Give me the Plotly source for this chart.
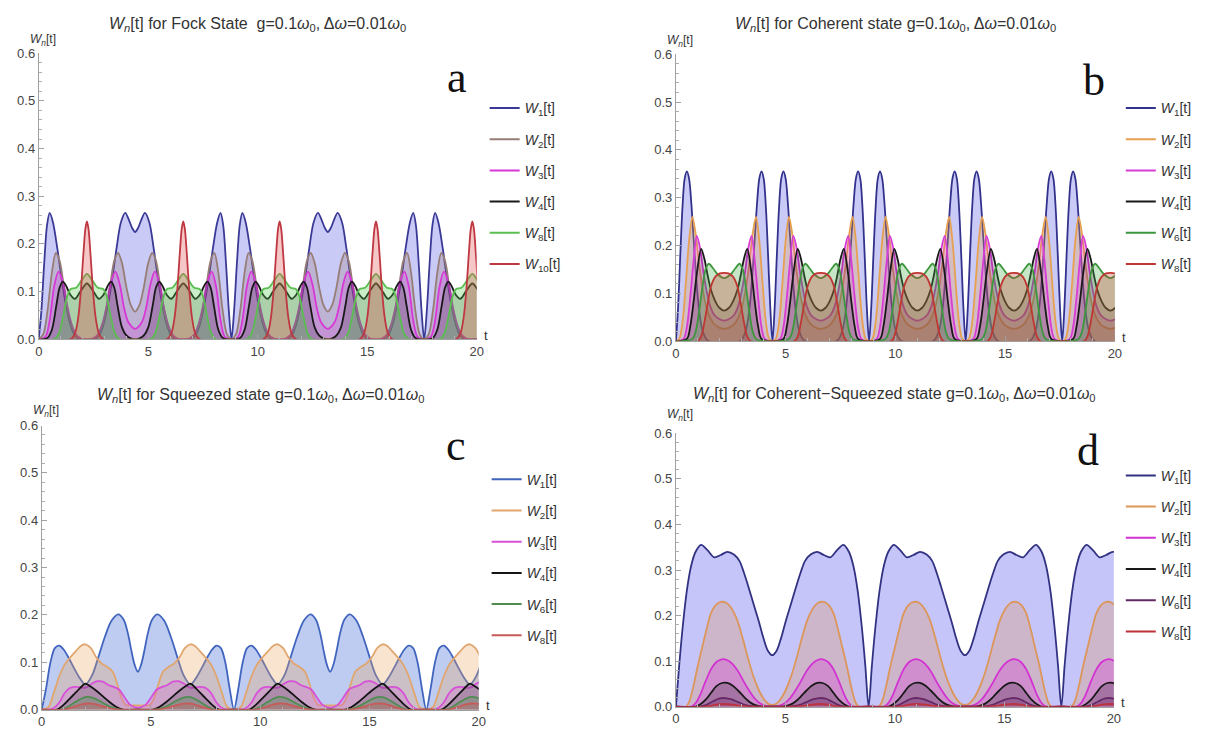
import plotly.graph_objects as go

# ---------------- data ----------------
# Each curve is given as (t, W) key points over one half period [0, 4.4];
# the pictures repeat this half period mirrored (period 8.8) along t.
PERIOD = 8.8
T_TICKS = [0, 5, 10, 15, 20]
Y_TICKS = [0.0, 0.1, 0.2, 0.3, 0.4, 0.5, 0.6]

NAMES_A = ["1", "2", "3", "4", "8", "10"]
NAMES_BCD = ["1", "2", "3", "4", "6", "8"]

# (a) Fock state
A_W1 = [(0, 0), (0.12, 0.06), (0.25, 0.16), (0.38, 0.24), (0.5, 0.265), (0.65, 0.245), (0.85, 0.19),
        (1.05, 0.125), (1.25, 0.07), (1.45, 0.03), (1.65, 0.008), (1.85, 0.0), (2.55, 0.0), (2.75, 0.008),
        (2.95, 0.03), (3.15, 0.07), (3.35, 0.125), (3.55, 0.19), (3.75, 0.245), (3.95, 0.265),
        (4.12, 0.25), (4.27, 0.233), (4.4, 0.225)]
A_W2 = [(0, 0), (0.2, 0.01), (0.4, 0.06), (0.6, 0.14), (0.78, 0.181), (0.95, 0.165), (1.15, 0.11),
        (1.35, 0.055), (1.55, 0.022), (1.8, 0.004), (2.2, 0.0), (2.6, 0.004), (2.85, 0.022), (3.05, 0.055),
        (3.25, 0.11), (3.45, 0.165), (3.62, 0.181), (3.8, 0.16), (4.0, 0.11), (4.2, 0.072), (4.4, 0.058)]
A_W3 = [(0, 0), (0.3, 0.005), (0.5, 0.04), (0.7, 0.11), (0.9, 0.142), (1.1, 0.12), (1.3, 0.07),
        (1.5, 0.032), (1.7, 0.01), (1.95, 0.001), (2.2, 0.0), (2.45, 0.001), (2.7, 0.01), (2.9, 0.032),
        (3.1, 0.07), (3.3, 0.12), (3.5, 0.142), (3.7, 0.115), (3.9, 0.065), (4.1, 0.035), (4.4, 0.022)]
A_W4 = [(0, 0), (0.4, 0.003), (0.6, 0.02), (0.8, 0.07), (0.95, 0.108), (1.1, 0.121), (1.25, 0.112),
        (1.45, 0.093), (1.65, 0.085), (1.9, 0.1), (2.2, 0.117), (2.5, 0.1), (2.75, 0.085), (2.95, 0.093),
        (3.15, 0.112), (3.3, 0.121), (3.45, 0.108), (3.6, 0.07), (3.8, 0.025), (4.0, 0.008),
        (4.2, 0.002), (4.4, 0.0)]
A_W8 = [(0, 0), (0.7, 0.0), (0.9, 0.01), (1.1, 0.045), (1.3, 0.09), (1.45, 0.105), (1.7, 0.108),
        (1.95, 0.123), (2.2, 0.137), (2.45, 0.123), (2.7, 0.108), (2.95, 0.105), (3.1, 0.09),
        (3.3, 0.045), (3.5, 0.01), (3.7, 0.0), (4.4, 0.0)]
A_W10 = [(0, 0), (1.45, 0.0), (1.65, 0.012), (1.8, 0.045), (1.92, 0.1), (2.04, 0.18), (2.13, 0.232),
         (2.2, 0.247), (2.27, 0.232), (2.36, 0.18), (2.48, 0.1), (2.6, 0.045), (2.75, 0.012),
         (2.95, 0.0), (4.4, 0.0)]

# (b) Coherent state
B_W1 = [(0, 0), (0.1, 0.07), (0.2, 0.18), (0.3, 0.28), (0.4, 0.34), (0.5, 0.355), (0.6, 0.34),
        (0.7, 0.29), (0.8, 0.22), (0.9, 0.15), (1.0, 0.09), (1.1, 0.05), (1.2, 0.025), (1.35, 0.007),
        (1.5, 0.0), (2.9, 0.0), (3.05, 0.007), (3.2, 0.025), (3.3, 0.05), (3.4, 0.09), (3.5, 0.15),
        (3.6, 0.22), (3.7, 0.29), (3.8, 0.34), (3.9, 0.355), (4.0, 0.34), (4.1, 0.28), (4.2, 0.18),
        (4.3, 0.07), (4.4, 0.0)]
B_W2 = [(0, 0), (0.15, 0.005), (0.3, 0.04), (0.45, 0.12), (0.6, 0.21), (0.75, 0.26), (0.9, 0.225),
        (1.05, 0.165), (1.2, 0.115), (1.35, 0.078), (1.5, 0.055), (1.7, 0.038), (1.95, 0.029),
        (2.2, 0.026), (2.45, 0.029), (2.7, 0.038), (2.9, 0.055), (3.05, 0.078), (3.2, 0.115),
        (3.35, 0.165), (3.5, 0.225), (3.65, 0.26), (3.8, 0.21), (3.95, 0.12), (4.1, 0.04),
        (4.25, 0.005), (4.4, 0.0)]
B_W3 = [(0, 0), (0.35, 0.005), (0.5, 0.03), (0.65, 0.09), (0.8, 0.165), (0.95, 0.22), (1.1, 0.195),
        (1.25, 0.145), (1.4, 0.105), (1.55, 0.075), (1.75, 0.055), (2.0, 0.046), (2.2, 0.043),
        (2.4, 0.046), (2.65, 0.055), (2.85, 0.075), (3.0, 0.105), (3.15, 0.145), (3.3, 0.195),
        (3.45, 0.22), (3.6, 0.165), (3.75, 0.09), (3.9, 0.03), (4.05, 0.005), (4.4, 0.0)]
B_W4 = [(0, 0), (0.5, 0.005), (0.65, 0.03), (0.8, 0.08), (0.95, 0.14), (1.15, 0.193), (1.3, 0.172),
        (1.45, 0.137), (1.6, 0.107), (1.78, 0.085), (1.98, 0.07), (2.2, 0.064), (2.42, 0.07),
        (2.62, 0.085), (2.8, 0.107), (2.95, 0.137), (3.1, 0.172), (3.25, 0.193), (3.45, 0.14),
        (3.6, 0.08), (3.75, 0.03), (3.9, 0.005), (4.4, 0.0)]
B_W6 = [(0, 0), (0.75, 0.005), (0.9, 0.02), (1.05, 0.06), (1.2, 0.11), (1.35, 0.15), (1.5, 0.162),
        (1.7, 0.152), (1.9, 0.14), (2.2, 0.132), (2.5, 0.14), (2.7, 0.152), (2.9, 0.162), (3.05, 0.15),
        (3.2, 0.11), (3.35, 0.06), (3.5, 0.02), (3.65, 0.005), (4.4, 0.0)]
B_W8 = [(0, 0), (1.0, 0.0), (1.15, 0.01), (1.3, 0.04), (1.45, 0.08), (1.6, 0.115), (1.8, 0.135),
        (2.0, 0.142), (2.2, 0.143), (2.4, 0.142), (2.6, 0.135), (2.8, 0.115), (2.95, 0.08),
        (3.1, 0.04), (3.25, 0.01), (3.4, 0.0), (4.4, 0.0)]

# (c) Squeezed state
C_W1 = [(0, 0), (0.2, 0.045), (0.4, 0.1), (0.6, 0.13), (0.8, 0.135), (1.0, 0.127), (1.25, 0.108),
        (1.5, 0.086), (1.75, 0.066), (2.0, 0.053), (2.3, 0.072), (2.6, 0.112), (2.9, 0.155),
        (3.2, 0.188), (3.5, 0.201), (3.75, 0.19), (3.95, 0.16), (4.1, 0.125), (4.25, 0.095),
        (4.4, 0.08)]
C_W2 = [(0, 0), (0.3, 0.005), (0.55, 0.035), (0.8, 0.07), (1.05, 0.095), (1.3, 0.11), (1.55, 0.123),
        (1.8, 0.135), (2.0, 0.138), (2.25, 0.13), (2.5, 0.11), (2.75, 0.097), (3.0, 0.09),
        (3.25, 0.08), (3.45, 0.055), (3.65, 0.025), (3.85, 0.01), (4.1, 0.009), (4.4, 0.009)]
C_W3 = [(0, 0), (0.5, 0.002), (0.8, 0.015), (1.05, 0.035), (1.3, 0.046), (1.6, 0.048), (1.85, 0.046),
        (2.05, 0.047), (2.3, 0.055), (2.55, 0.06), (2.8, 0.059), (3.05, 0.052), (3.3, 0.048),
        (3.55, 0.042), (3.8, 0.025), (4.05, 0.01), (4.4, 0.004)]
C_W4 = [(0, 0), (0.7, 0.0), (1.0, 0.01), (1.3, 0.024), (1.6, 0.038), (1.85, 0.05), (2.0, 0.055),
        (2.2, 0.05), (2.5, 0.04), (2.8, 0.028), (3.1, 0.016), (3.4, 0.006), (3.7, 0.0), (4.4, 0.0)]
C_W6 = [(0, 0), (0.9, 0.0), (1.2, 0.006), (1.5, 0.015), (1.8, 0.023), (2.05, 0.027), (2.35, 0.025),
        (2.7, 0.017), (3.0, 0.009), (3.3, 0.003), (3.6, 0.0), (4.4, 0.0)]
C_W8 = [(0, 0), (1.0, 0.0), (1.3, 0.003), (1.6, 0.008), (1.9, 0.012), (2.1, 0.013), (2.4, 0.012),
        (2.7, 0.008), (3.0, 0.004), (3.3, 0.001), (3.6, 0.0), (4.4, 0.0)]

# (d) Coherent-Squeezed state
D_W1 = [(0, 0), (0.15, 0.09), (0.3, 0.17), (0.5, 0.255), (0.7, 0.31), (0.9, 0.34), (1.15, 0.355),
        (1.45, 0.343), (1.75, 0.328), (2.05, 0.333), (2.35, 0.34), (2.65, 0.334), (2.9, 0.32),
        (3.1, 0.295), (3.3, 0.265), (3.55, 0.225), (3.8, 0.185), (4.0, 0.15), (4.2, 0.123),
        (4.4, 0.113)]
D_W2 = [(0, 0), (0.45, 0.0), (0.6, 0.01), (0.8, 0.045), (1.0, 0.09), (1.2, 0.13), (1.4, 0.17),
        (1.6, 0.205), (1.8, 0.222), (2.05, 0.23), (2.3, 0.228), (2.55, 0.215), (2.8, 0.19),
        (3.05, 0.15), (3.3, 0.105), (3.55, 0.065), (3.8, 0.035), (4.0, 0.018), (4.2, 0.007),
        (4.4, 0.004)]
D_W3 = [(0, 0), (0.7, 0.0), (0.9, 0.008), (1.1, 0.025), (1.35, 0.055), (1.6, 0.082), (1.85, 0.098),
        (2.1, 0.104), (2.35, 0.102), (2.6, 0.093), (2.85, 0.077), (3.1, 0.055), (3.35, 0.035),
        (3.6, 0.018), (3.85, 0.007), (4.1, 0.002), (4.4, 0.0)]
D_W4 = [(0, 0), (0.9, 0.0), (1.1, 0.005), (1.35, 0.015), (1.6, 0.03), (1.85, 0.045), (2.1, 0.052),
        (2.35, 0.052), (2.6, 0.046), (2.85, 0.035), (3.1, 0.022), (3.35, 0.011), (3.6, 0.004),
        (3.9, 0.0), (4.4, 0.0)]
D_W6 = [(0, 0), (1.1, 0.0), (1.4, 0.004), (1.7, 0.012), (2.0, 0.018), (2.25, 0.019), (2.55, 0.016),
        (2.85, 0.01), (3.15, 0.004), (3.45, 0.001), (3.7, 0.0), (4.4, 0.0)]
D_W8 = [(0, 0), (1.3, 0.0), (1.6, 0.002), (1.9, 0.005), (2.2, 0.006), (2.5, 0.005), (2.8, 0.003),
        (3.1, 0.001), (3.4, 0.0), (4.4, 0.0)]

TITLE_A = "Fock State\u00a0 g=0.1"
TITLE_B = "Coherent state g=0.1"
TITLE_C = "Squeezed state g=0.1"
TITLE_D = "Coherent\u2212Squeezed state g=0.1"

# ---------------- styles ----------------
LINES_A = ["rgb(58,58,150)", "rgb(150,125,118)", "rgb(215,55,215)", "rgb(25,25,25)", "rgb(90,190,80)", "rgb(190,55,65)"]
FILLS_A = ["rgba(80,80,230,0.3)", "rgba(150,110,100,0.25)", "rgba(220,60,220,0.25)", "rgba(40,40,40,0.2)", "rgba(80,200,70,0.3)", "rgba(225,70,70,0.3)"]
LINES_B = ["rgb(50,50,140)", "rgb(230,160,80)", "rgb(215,60,215)", "rgb(25,25,25)", "rgb(60,150,60)", "rgb(190,55,50)"]
FILLS_B = ["rgba(80,80,230,0.3)", "rgba(235,160,80,0.3)", "rgba(220,60,220,0.25)", "rgba(40,40,40,0.2)", "rgba(70,170,70,0.3)", "rgba(200,60,50,0.3)"]
LINES_C = ["rgb(65,100,190)", "rgb(225,165,110)", "rgb(215,80,215)", "rgb(20,20,20)", "rgb(80,140,80)", "rgb(200,90,90)"]
FILLS_C = ["rgba(70,110,215,0.35)", "rgba(235,165,100,0.3)", "rgba(220,80,220,0.25)", "rgba(40,40,40,0.2)", "rgba(80,150,80,0.3)", "rgba(210,90,90,0.3)"]
LINES_D = ["rgb(50,50,130)", "rgb(220,150,90)", "rgb(210,50,210)", "rgb(25,25,25)", "rgb(100,40,100)", "rgb(190,50,60)"]
FILLS_D = ["rgba(90,90,240,0.35)", "rgba(225,150,90,0.3)", "rgba(220,50,220,0.3)", "rgba(40,40,40,0.25)", "rgba(110,40,110,0.3)", "rgba(200,50,60,0.3)"]

W, H = 1208, 740
OFF = 8  # the page body margin shifts the figure by 8 px
SANS = "Liberation Sans, Arial, sans-serif"
SERIF = "Liberation Serif, Times New Roman, serif"


def px_x(p):
    return (p - OFF) / W


def px_y(p):
    return 1 - (p - OFF) / H


def unfold(profile):
    """Repeat the read half-period profile (mirrored) across 0..20."""
    half = PERIOD / 2
    ts, vs = [], []
    k = 0
    while k * PERIOD <= 20:
        base = k * PERIOD
        for t, v in profile:
            if k > 0 and t == 0:
                continue
            ts.append(base + t)
            vs.append(v)
        for t, v in reversed(profile):
            if t == half:
                continue
            ts.append(base + PERIOD - t)
            vs.append(v)
        k += 1
    return ts, vs


# panel geometry in page pixels: (x_left, x_right, y_top(0.6), y_bottom(0))
GEOM = {
    "a": (35, 477, 47, 339),
    "b": (678, 1121, 48, 341),
    "c": (38, 479, 427, 717),
    "d": (678, 1120, 435, 714),
}
LEG_POS = {"a": (485, 87), "b": (1127, 87), "c": (487, 466), "d": (1127, 462)}
LETTER_POS = {"a": (457, 72), "b": (1100, 75), "c": (456, 447), "d": (1094, 453)}
YLAB_DY = {"a": 13, "b": 13, "c": 15, "d": 19}
TITLE_Y = {"a": 18, "b": 18, "c": 396, "d": 395}

panels = [
    ("a", "", [A_W1, A_W2, A_W3, A_W4, A_W8, A_W10], NAMES_A, LINES_A, FILLS_A, TITLE_A, "legend"),
    ("b", "2", [B_W1, B_W2, B_W3, B_W4, B_W6, B_W8], NAMES_BCD, LINES_B, FILLS_B, TITLE_B, "legend2"),
    ("c", "3", [C_W1, C_W2, C_W3, C_W4, C_W6, C_W8], NAMES_BCD, LINES_C, FILLS_C, TITLE_C, "legend3"),
    ("d", "4", [D_W1, D_W2, D_W3, D_W4, D_W6, D_W8], NAMES_BCD, LINES_D, FILLS_D, TITLE_D, "legend4"),
]

fig = go.Figure()
annotations = []
layout = {}

for letter, sfx, curves, names, lcols, fcols, title, leg in panels:
    xl, xr, yt, yb = GEOM[letter]
    xa = "x" + sfx
    ya = "y" + sfx
    for prof, lc, fc in zip(curves, lcols, fcols):
        ts, vs = unfold(prof)
        fig.add_trace(go.Scatter(
            x=ts, y=vs, mode="lines", xaxis=xa, yaxis=ya,
            line=dict(color=lc, width=1.8, shape="spline", smoothing=0.9),
            fill="tozeroy", fillcolor=fc, showlegend=False, hoverinfo="skip"))
    for i, (nm, lc) in enumerate(zip(names, lcols)):
        fig.add_trace(go.Scatter(
            x=[None], y=[None], mode="lines", xaxis=xa, yaxis=ya,
            line=dict(color=lc, width=2),
            name="<i>W</i><sub>%s</sub>[t]" % nm,
            legend=leg, legendgroup=letter + nm, showlegend=True))

    axis_common = dict(showline=True, linecolor="#a0a0a0", linewidth=1, showgrid=False, zeroline=False,
                       ticks="inside", tickcolor="#a0a0a0", ticklen=5,
                       tickfont=dict(family=SANS, size=13, color="#444"))
    layout["xaxis" + sfx] = dict(
        axis_common, domain=[px_x(xl), px_x(xr)], range=[0, 20], anchor=ya,
        tickvals=T_TICKS, ticktext=[str(v) for v in T_TICKS],
        minor=dict(ticks="inside", dtick=1, ticklen=3, tickcolor="#b0b0b0"))
    layout["yaxis" + sfx] = dict(
        axis_common, domain=[px_y(yb), px_y(yt)], range=[0, 0.6], anchor=xa,
        tickvals=Y_TICKS, ticktext=["%.1f" % v for v in Y_TICKS],
        minor=dict(ticks="inside", dtick=0.02, ticklen=3, tickcolor="#b0b0b0"))

    lx, ly = LEG_POS[letter]
    layout[leg] = dict(x=px_x(lx), y=px_y(ly), xanchor="left", yanchor="top",
                       font=dict(family=SANS, size=14, color="#333"), itemwidth=30,
                       tracegroupgap=10, bgcolor="rgba(0,0,0,0)", borderwidth=0)

    # title
    annotations.append(dict(
        xref="paper", yref="paper", x=px_x((xl + xr) / 2), y=px_y(TITLE_Y[letter]), xanchor="center",
        yanchor="middle",
        text="<i>W</i><sub><i>n</i></sub>[t] for " + title + "<i>\u03c9</i><sub>0</sub>, \u0394<i>\u03c9</i>=0.01<i>\u03c9</i><sub>0</sub>",
        showarrow=False, font=dict(family=SANS, size=16, color="#333")))
    # y-axis label
    annotations.append(dict(
        xref="paper", yref="paper", x=px_x(xl + 4), y=px_y(yt - YLAB_DY[letter]), xanchor="center",
        yanchor="middle", text="<i>W</i><sub><i>n</i></sub>[t]", showarrow=False,
        font=dict(family=SANS, size=12, color="#333")))
    # x-axis label
    annotations.append(dict(
        xref="paper", yref="paper", x=px_x(xr + 9), y=px_y(yb - 4), xanchor="center", yanchor="middle",
        text="t", showarrow=False, font=dict(family=SANS, size=13, color="#333")))
    # panel letter
    cx, cy = LETTER_POS[letter]
    annotations.append(dict(xref="paper", yref="paper", x=px_x(cx), y=px_y(cy), xanchor="center",
                            yanchor="middle", text=letter, showarrow=False,
                            font=dict(family=SERIF, size=44, color="#111")))

fig.update_layout(width=W, height=H, margin=dict(l=0, r=0, t=0, b=0), plot_bgcolor="white",
                  paper_bgcolor="white", annotations=annotations, **layout)

fig.write_html("out.html")
